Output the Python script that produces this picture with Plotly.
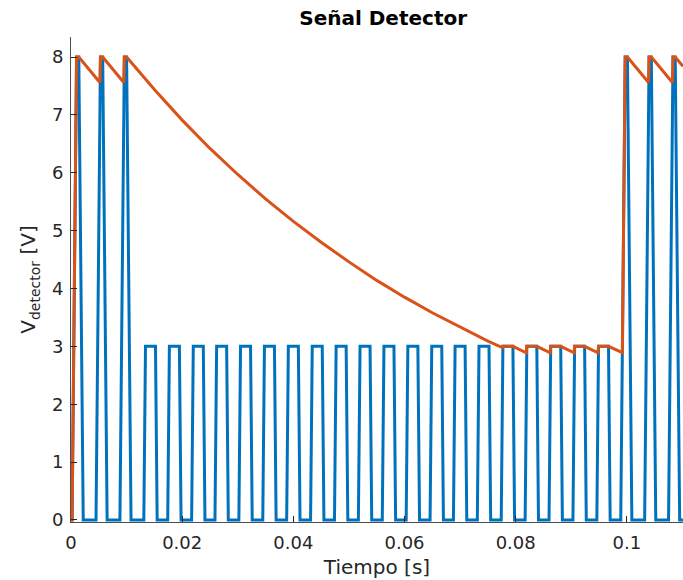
import plotly.graph_objects as go

# ---- data ----
pulse_start = [0.0002, 0.0045, 0.0088, 0.0131, 0.0174, 0.0217, 0.0259, 0.0302,
               0.0345, 0.0388, 0.0431, 0.0474, 0.0517, 0.0560, 0.0603, 0.0646,
               0.0688, 0.0731, 0.0774, 0.0817, 0.0860, 0.0903, 0.0946, 0.0989,
               0.1032, 0.1075]
pulse_amp = [8, 8, 8, 3, 3, 3, 3, 3, 3, 3, 3, 3, 3, 3, 3, 3, 3, 3, 3, 3, 3, 3, 3,
             8, 8, 8]
# edge / top durations of the pulses (s) per amplitude
pulse_edge = {8: 0.0008, 3: 0.0003}
pulse_top = {8: 0.0004, 3: 0.0018}

env_t = [0.0, 0.0002, 0.0010, 0.0014, 0.0052, 0.0053, 0.0057, 0.0095, 0.0096,
         0.0100, 0.015, 0.020, 0.025, 0.030, 0.035, 0.040, 0.045, 0.050, 0.055,
         0.060, 0.065, 0.070, 0.075, 0.0776, 0.0777, 0.0795, 0.0819, 0.0820,
         0.0838, 0.0862, 0.0863, 0.0881, 0.0905, 0.0906, 0.0924, 0.0948, 0.0949,
         0.0967, 0.0992, 0.0997, 0.1001, 0.1039, 0.1040, 0.1044, 0.1082, 0.1083,
         0.1087, 0.1101]
env_v = [0.0, 0.0, 8.0, 8.0, 7.56, 8.0, 8.0, 7.56, 8.0,
         8.0, 7.44, 6.91, 6.42, 5.97, 5.55, 5.16, 4.80, 4.46, 4.14,
         3.85, 3.58, 3.33, 3.09, 2.98, 3.0, 3.0, 2.89, 3.0,
         3.0, 2.89, 3.0, 3.0, 2.89, 3.0, 3.0, 2.89, 3.0,
         3.0, 2.89, 8.0, 8.0, 7.56, 8.0, 8.0, 7.56, 8.0,
         8.0, 7.84]

x_ticks = [0, 0.02, 0.04, 0.06, 0.08, 0.1]
x_ticklabels = ["0", "0.02", "0.04", "0.06", "0.08", "0.1"]
y_ticks = [0, 1, 2, 3, 4, 5, 6, 7, 8]
X_MAX = 0.1101

# build the square-wave polyline from the pulse list
sig_t = [0.0]
sig_v = [0.0]
for s, a in zip(pulse_start, pulse_amp):
    e = pulse_edge[a]
    w = pulse_top[a]
    sig_t += [s, s + e, s + e + w, s + 2 * e + w]
    sig_v += [0, a, a, 0]
sig_t.append(X_MAX)
sig_v.append(0)

BLUE = "#0072BD"
ORANGE = "#D95319"
FONT = "DejaVu Sans"
TXT = "#262626"

fig = go.Figure()
fig.add_trace(go.Scatter(x=sig_t, y=sig_v, mode="lines",
                         line=dict(color=BLUE, width=3), showlegend=False))
fig.add_trace(go.Scatter(x=env_t, y=env_v, mode="lines",
                         line=dict(color=ORANGE, width=3), showlegend=False))

fig.update_layout(
    width=683, height=580,
    margin=dict(l=71, r=0, t=37, b=58),
    paper_bgcolor="white", plot_bgcolor="white",
    font=dict(family=FONT, color=TXT),
    title=dict(text="<b>Señal Detector</b>", x=0.561, xanchor="center",
               y=1 - 18 / 580, yanchor="middle",
               font=dict(family=FONT, size=20, color="black")),
)
fig.update_xaxes(
    range=[0, X_MAX], tickvals=x_ticks, ticktext=x_ticklabels,
    ticks="inside", ticklen=6, tickcolor=TXT, tickwidth=1,
    showline=True, linecolor="#4d4d4d", linewidth=1, mirror=False,
    showgrid=False, zeroline=False, ticklabelstandoff=4,
    tickfont=dict(family=FONT, size=18, color=TXT),
    title=dict(text="Tiempo [s]", font=dict(family=FONT, size=20, color=TXT),
               standoff=8),
)
fig.update_yaxes(
    range=[-0.035, 8.346], tickvals=y_ticks,
    ticks="inside", ticklen=6, tickcolor=TXT, tickwidth=1,
    showline=True, linecolor="#4d4d4d", linewidth=1, mirror=False,
    showgrid=False, zeroline=False, ticklabelstandoff=3,
    tickfont=dict(family=FONT, size=18, color=TXT),
    title=dict(text="V<sub>detector</sub> [V]",
               font=dict(family=FONT, size=20, color=TXT), standoff=10),
)

fig.write_html("out.html")
